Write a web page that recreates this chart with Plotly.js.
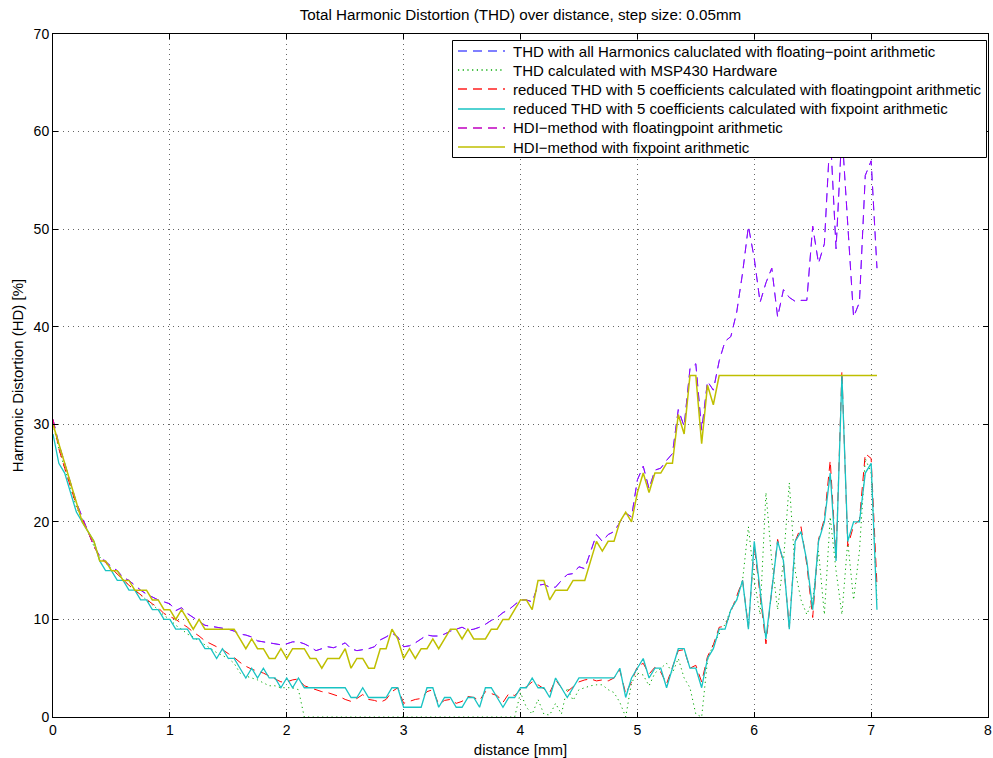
<!DOCTYPE html>
<html>
<head>
<meta charset="utf-8">
<script src="https://cdn.plot.ly/plotly-3.0.1.min.js"></script>
<style>html,body{margin:0;padding:0;background:#fff;}#chart{width:993px;height:758px;}</style>
</head>
<body>
<div id="chart"></div>
<script>
// distance [mm], step 0.05 mm
const distance = [
0,0.05,0.1,0.15,0.2,0.25,0.3,0.35,0.4,0.45,0.5,0.55,0.6,0.65,0.7,0.75,0.8,0.85,0.9,0.95,
1,1.05,1.1,1.15,1.2,1.25,1.3,1.35,1.4,1.45,1.5,1.55,1.6,1.65,1.7,1.75,1.8,1.85,1.9,1.95,
2,2.05,2.1,2.15,2.2,2.25,2.3,2.35,2.4,2.45,2.5,2.55,2.6,2.65,2.7,2.75,2.8,2.85,2.9,2.95,
3,3.05,3.1,3.15,3.2,3.25,3.3,3.35,3.4,3.45,3.5,3.55,3.6,3.65,3.7,3.75,3.8,3.85,3.9,3.95,
4,4.05,4.1,4.15,4.2,4.25,4.3,4.35,4.4,4.45,4.5,4.55,4.6,4.65,4.7,4.75,4.8,4.85,4.9,4.95,
5,5.05,5.1,5.15,5.2,5.25,5.3,5.35,5.4,5.45,5.5,5.55,5.6,5.65,5.7,5.75,5.8,5.85,5.9,5.95,
6,6.05,6.1,6.15,6.2,6.25,6.3,6.35,6.4,6.45,6.5,6.55,6.6,6.65,6.7,6.75,6.8,6.85,6.9,6.95,
7,7.05];

// THD with all harmonics, floating point (blue dashed)
const thdAllFloat = [
30.5,28,26,24,22,20.5,19,17.5,16.5,16,
15.4,15,14.3,14,13.5,13,12.6,12.3,12,11.8,
11.6,10.9,11.2,10.6,10.2,9.8,9.4,9.3,9.2,9.1,
9,8.8,8.5,8.4,8.2,7.8,7.7,7.6,7.5,7.4,
7.5,7.7,7.7,7.5,7.2,6.8,7,7.2,7.1,7.3,
7.6,7,6.8,6.9,7,7.2,7.9,8.2,8.6,8.2,
7.2,7.3,7.6,8,8.4,8.3,8.3,8.5,8.8,9,
9.2,8.9,9,9.2,9.5,9.9,10.2,10.7,11,11.5,
12,12,11.8,13.5,13.6,13.3,13.3,14,14.6,14.7,
15.4,15.2,17,18.7,18,18.7,19,19.9,20.9,20.5,
24.3,25.7,23.4,25.3,25.5,26.3,27,31.5,29.8,35.7,
36.2,29.4,34.4,33.5,36.5,38.5,39,41.5,45.5,50.3,
47,42.5,44.5,46,41,43.8,43,42.6,42.7,42.7,
50.3,46.5,48.5,60,48,60,50,41,42.5,55.5,
57,46];

// HDI method, floating point (magenta dashed)
const hdiFloat = [
30.5,28,26,24,22,20.5,19,17.5,16.5,16,
15.4,15,14.3,14,13.5,13,12.6,12.3,12,11.8,
11.6,10.9,11.2,10.6,10.2,9.8,9.4,9.3,9.2,9.1,
9,8.8,8.5,8.4,8.2,7.8,7.7,7.6,7.5,7.4,
7.5,7.7,7.7,7.5,7.2,6.8,7,7.2,7.1,7.3,
7.6,7,6.8,6.9,7,7.2,7.9,8.2,8.6,8.2,
7.2,7.3,7.6,8,8.4,8.3,8.3,8.5,8.8,9,
9.2,8.9,9,9.2,9.5,9.9,10.2,10.7,11,11.5,
12,12,11.8,13.5,13.6,13.3,13.3,14,14.6,14.7,
15.4,15.2,17,18.7,18,18.7,19,19.9,20.9,20.5,
24.3,25.7,23.4,25.3,25.5,26.3,27,31.5,29.8,35.7,
36.2,29.4,34.4,33.5,36.5,38.5,39,41.5,45.5,50.3,
47,42.5,44.5,46,41,43.8,43,42.6,42.7,42.7,
50.3,46.5,48.5,60,48,60,50,41,42.5,55.5,
57,46];

// THD calculated with MSP430 hardware (green dotted)
const thdMsp430 = [
30,27.5,25.5,23.5,21.5,20.3,19,17.5,16.4,15.8,
15.2,14.6,14,13.5,13,12.5,12,11.5,11,10.4,
10,9.4,9,8.5,8.2,7.8,7.4,7,6.6,6.3,
6,5.5,4.5,4.2,4,3.8,3.5,3.2,3.2,3,
3,3,2.8,0,0,0,0,0,0,0,
0,0,0,0,0,0,0,0,0,0,
0,0,0,0,0,0,0,0,0,0,
0,0,0,0,0,0,0,0,0,0,
2.5,1,0.3,1.8,0.3,0.2,1.4,0.3,3,1.7,
2.8,3,3.2,3.3,3.3,2.8,2.5,1.5,0,3.5,
4.5,4.3,3.2,4.5,5,5.5,4.5,6,4,3,
0.3,0,5.8,7.5,8.5,9.5,11,12,14,19.5,
14,10.5,23,16,11,16,24,15,12,10.5,
12,17,10.5,20.5,15,10.5,18,12,17,26.5,
25,12];

// reduced THD, 5 coefficients, floating point (red dashed)
const redFloat = [
30.5,27.5,25.5,23.5,21.7,20.3,19,17.5,16.4,15.8,
15.2,14.6,14,13.5,13,12.5,12.1,11.6,11.2,10.6,
10.3,10,9.6,9.2,8.7,8.3,7.8,7.5,7.2,6.9,
6.5,6.1,5.6,5.2,4.9,4.7,4.5,4.2,3.9,3.6,
3.6,3.8,3.9,3.2,3,2.8,2.6,2.5,2.3,2.1,
1.8,1.6,1.9,2.3,1.8,1.7,1.5,1.8,2.6,3,
1.4,1.6,1.8,1.9,2.6,2.8,1.3,1.7,1.8,1.4,
1.6,2.1,2,1.7,2.6,2.4,2.2,1.5,2.4,2.2,
2.8,3.1,3.6,3.3,2.9,2.5,3.8,3,2.6,3.1,
3.6,3.8,3.9,3.7,3.8,3.7,4,4.8,2.4,3.6,
5.2,5.5,4.4,5.1,4.6,3.4,5.2,6.8,6.9,5,
5.3,3.6,6.2,7.4,9.2,9.3,10.8,12.3,14,9.2,
17.6,12.5,7.5,13,18.2,15.8,9.2,18,19.5,15.6,
10.2,18.2,20.3,26.3,16.3,35.5,17.5,19.6,20.2,27,
26.5,13.5];

// reduced THD, 5 coefficients, fixpoint (cyan)
const redFix = [
29,26,25,23,21,20,19,18,16,15,
15,14,14,13,13,12,12,11,11,10,
10,9,9,9,8,8,7,7,6,7,
6,6,5,4,5,4,5,4,4,3,
4,3,4,3,3,3,3,3,3,3,
3,2,2,3,2,2,2,2,3,3,
1,1,1,1,3,3,1,2,2,1,
1,2,2,1,3,3,2,1,2,2,
3,3,4,3,3,2,4,3,2,3,
4,4,4,4,4,4,4,5,2,4,
5,6,4,5,5,3,5,7,7,5,
5,3,6,7,9,9,11,12,14,9,
18,13,8,13,18,16,9,18,19,16,
11,18,20,25,16,35,18,20,20,25,
26,11];

// HDI method, fixpoint (yellow)
const hdiFix = [
30,28,26,24,22,20,19,18,16,16,
15,15,14,14,13,13,13,12,12,11,
11,10,11,10,9,10,9,9,9,9,
9,9,8,7,8,7,7,6,6,7,
6,7,7,7,6,6,5,6,6,6,
7,5,6,6,5,5,7,7,9,8,
6,7,6,7,7,8,7,8,9,9,
8,9,8,8,8,9,9,10,10,11,
12,12,11,14,14,12,13,13,13,14,
14,14,16,18,17,18,18,20,21,20,
23,25,23,25,25,26,26,31,29,35,
35,28,34,32,35,35,35,35,35,35,
35,35,35,35,35,35,35,35,35,35,
35,35,35,35,35,35,35,35,35,35,
35,35];

const seriesNames = [
  'THD with all Harmonics caluclated with floating\u2212point arithmetic',
  'THD calculated with MSP430 Hardware',
  'reduced THD with 5 coefficients calculated with floatingpoint arithmetic',
  'reduced THD with 5 coefficients calculated with fixpoint arithmetic',
  'HDI\u2212method with floatingpoint arithmetic',
  'HDI\u2212method with fixpoint arithmetic'
];
const seriesColors = ['#0000ff', '#00a800', '#ff0000', '#19c3c3', '#ff00ff', '#bfbf00'];
const legendColors = ['#5555ff', '#00a800', '#ff2020', '#19c3c3', '#c000c0', '#bfbf00'];
const seriesDash = ['9px,6px', '1.2px,3.5px', '9px,6px', 'solid', '9px,6px', 'solid'];
const seriesOpacity = [1, 1, 1, 1, 0.6, 1];
const seriesWidth = [1, 1, 1, 1.3, 1, 1.5];
const seriesData = [thdAllFloat, thdMsp430, redFloat, redFix, hdiFloat, hdiFix];

const traces = seriesData.map((ys, k) => ({
  x: distance, y: ys, name: seriesNames[k], mode: 'lines', showlegend: false,
  opacity: seriesOpacity[k],
  line: {color: seriesColors[k], width: seriesWidth[k], dash: seriesDash[k]}
}));

const font = 'Liberation Sans, Arial, Helvetica, sans-serif';

// plot area in pixels (for placing the legend box)
const PL = 53, PR = 988, PT = 34, PB = 717;
const px2x = p => (p - PL) / (PR - PL);
const px2y = p => (PB - p) / (PB - PT);

// legend geometry (pixels)
const legBox = {x0: 452.5, x1: 986.5, y0: 40.5, y1: 157.5};
const legRowY0 = 51, legRowStep = 19.2;
const legLineX0 = 458, legLineX1 = 505, legTextX = 511;

const shapes = [{
  type: 'rect', xref: 'paper', yref: 'paper', layer: 'above',
  x0: px2x(legBox.x0), x1: px2x(legBox.x1), y0: px2y(legBox.y1), y1: px2y(legBox.y0),
  fillcolor: '#fff', line: {color: '#000', width: 1}
}];
const annotations = [];
seriesNames.forEach((nm, k) => {
  const ry = legRowY0 + k * legRowStep;
  const ryLine = Math.round(ry);
  shapes.push({
    type: 'line', xref: 'paper', yref: 'paper', layer: 'above',
    x0: px2x(legLineX0), x1: px2x(legLineX1), y0: px2y(ryLine), y1: px2y(ryLine),
    line: {color: legendColors[k], width: 1.6, dash: seriesDash[k]}
  });
  annotations.push({
    xref: 'paper', yref: 'paper', x: px2x(legTextX), y: px2y(ry),
    xanchor: 'left', yanchor: 'middle', showarrow: false, text: nm,
    font: {family: font, size: 15, color: '#000'}
  });
});

const axisCommon = {
  showline: true, linecolor: '#000', linewidth: 1, mirror: 'allticks',
  ticks: 'inside', ticklen: 5, tickcolor: '#000', tickwidth: 1,
  showgrid: true, gridcolor: 'rgba(0,0,0,0.6)', griddash: '1px,4px', gridwidth: 1,
  zeroline: false, tickfont: {family: font, size: 14, color: '#000'},
  fixedrange: true
};

const layout = {
  width: 993, height: 758,
  paper_bgcolor: '#fff', plot_bgcolor: '#fff',
  margin: {l: PL, r: 993 - PR, t: PT, b: 758 - PB, pad: 0},
  font: {family: font, size: 14, color: '#000'},
  title: {text: 'Total Harmonic Distortion (THD) over distance, step size: 0.05mm',
          font: {family: font, size: 15.2, color: '#000'},
          x: 0.5, xref: 'paper', xanchor: 'center',
          y: 1 - 15/758, yref: 'container', yanchor: 'middle'},
  xaxis: Object.assign({}, axisCommon, {
    range: [0, 8], tick0: 0, dtick: 1,
    title: {text: 'distance [mm]', font: {family: font, size: 15, color: '#000'}, standoff: 9}
  }),
  yaxis: Object.assign({}, axisCommon, {
    range: [0, 70], tick0: 0, dtick: 10,
    title: {text: 'Harmonic Distortion (HD) [%]', font: {family: font, size: 15, color: '#000'}, standoff: 6}
  }),
  shapes: shapes,
  annotations: annotations,
  showlegend: false,
  hovermode: false
};

Plotly.newPlot('chart', traces, layout, {displayModeBar: false, staticPlot: true});
</script>
</body>
</html>
